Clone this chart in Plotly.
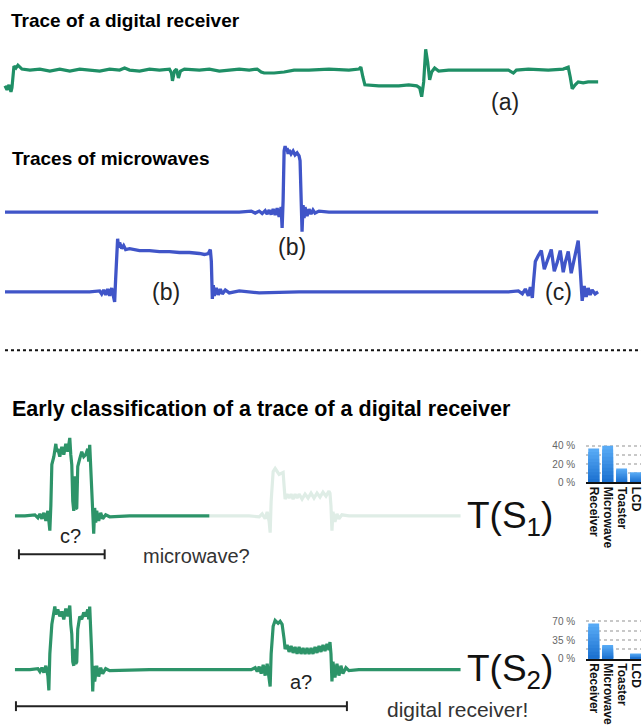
import plotly.graph_objects as go

W, H = 643, 725

# ---------------- data (time in samples, power level relative to idle) ----------------
receiver_t = [5, 7, 9, 11, 12, 14, 16, 18, 22, 30, 40, 50, 60, 70, 80, 90, 100, 110, 120, 125,
              130, 140, 150, 160, 170, 172, 173, 175, 177, 179, 181, 185, 200, 210, 220, 230, 240,
              250, 258, 262, 265, 275, 285, 295, 310, 330, 350, 360, 362, 364, 366, 380, 400, 410,
              418, 421, 423, 425, 427, 429, 431, 433, 436, 440, 450, 470, 490, 510, 515, 518, 530,
              550, 565, 570, 572, 574, 577, 580, 585, 590, 600]
receiver_p = [-16, -20, -15, -22, -18, 4, 2, 5, 1, 0, 1, -1, 1, -1, 1, 0, -1, 1, 0, 2,
              0, -1, 1, 0, 1, -3, -11, -1, 1, -8, -1, 1, 0, 1, -1, 0, 1,
              0, 1, -2, -3, -3, -2, 0, 0, 1, 0, 1, 3, -7, -15, -16, -16, -15,
              -16, -18, -27, -12, 21, 8, -10, -2, 2, -1, 0, 0, 0, 0, -3, 0, 1,
              0, 1, 3, -7, -19, -15, -12, -13, -12, -12]

mw1_t = [5, 50, 100, 150, 200, 240, 252, 256, 260, 263, 266, 268, 270, 272, 274, 276, 278, 280,
         282, 283, 284, 285, 286, 287, 288, 289, 290, 292, 294, 296, 298, 300, 301, 302, 303, 304,
         305, 306, 308, 310, 312, 314, 316, 320, 330, 400, 500, 600]
mw1_p = [0, 0, 0, 0, 0, 0, 1, -1, 1, -1.5, 1.5, -2, 2, -2.5, 3, -3, 4, -5,
         5, -16, 12, 62, 67, 62, 65, 59, 63, 59, 62, 58, 60, 57, 52, 17, -20, 7,
         -6, 5, -4, 3, -2, 2, -1, 1, 0, 0, 0, 0]

mw2_t = [5, 60, 90, 100, 102, 104, 106, 108, 110, 112, 114, 115, 116, 117, 118, 119, 120, 122,
         124, 126, 130, 140, 150, 160, 170, 180, 190, 200, 205, 209, 211, 212, 213, 214, 215, 217,
         219, 221, 223, 226, 230, 240, 260, 300, 400, 480, 510, 520, 524, 527, 530, 532, 534, 535,
         537, 540, 543, 546, 549, 553, 556, 559, 562, 565, 567, 570, 573, 575, 580, 582, 583, 584,
         586, 588, 590, 592, 594, 597, 600]
mw2_p = [0, 0, 0, 1, -2, 2, -3, 3, -4, 4, -7, -10, 13, 48, 54, 45, 50, 44,
         47, 43, 44, 42, 42, 41, 41, 40, 40, 39, 38, 39, 43, 31, -7, 7, -4, 4,
         -3, 3, -2, 2, -1, 1, -1, 0, 0, 0, 0, 1, -2, 3, -4, 5, -6, 8,
         31, 37, 42, 23, 31, 43, 21, 30, 42, 20, 30, 41, 19, 28, 52, 23, 3, -9,
         6, -5, 4, -3, 2, -2, 0]

early1_t = [15, 25, 35, 38, 40, 42, 44, 46, 48, 50, 51, 52, 54, 55, 56, 57, 58, 60, 62, 64, 66,
            68, 70, 71, 72, 73, 74, 75, 76, 77, 78, 80, 82, 84, 86, 88, 89, 90, 91, 92, 93, 94,
            95, 96, 97, 99, 101, 103, 106, 110, 130, 170, 200, 210, 230, 250, 260, 263, 266, 268,
            270, 271, 272, 274, 276, 280, 282, 284, 285, 286, 288, 290, 292, 294, 296, 298, 300,
            303, 306, 309, 312, 315, 318, 321, 324, 327, 330, 331, 332, 333, 334, 336, 338, 340,
            343, 350, 400, 462]
early1_p = [0, 0, 1, -2, 2, -3, 3, -5, 5, -15, 10, 52, 60, 70, 73, 65, 68, 60, 70, 62, 73,
            65, 79, 62, 52, 15, 5, 40, 7, 8, 50, 58, 65, 60, 62, 68, 55, 72, 50, 20, -10, -18,
            8, -7, 5, -5, 3, -3, 1, -1, 0, 0, 0, 0, 0, 0, -1, 2, -3, 4,
            -6, -17, 15, 45, 48, 42, 43, 44, 30, 17, 22, 18, 22, 17, 22, 18, 22,
            17, 22, 18, 23, 18, 23, 19, 24, 20, 25, 23, 10, -15, 4, -6, 2, -3,
            1, 0, 0, 0]
early1_observed_until = 210

early2_t = [15, 30, 38, 40, 42, 44, 46, 48, 49, 50, 52, 54, 55, 56, 58, 60, 62, 64, 66, 68, 70,
            71, 72, 73, 74, 75, 76, 77, 78, 80, 82, 84, 86, 88, 89, 90, 91, 92, 93, 94, 95, 97,
            99, 101, 103, 106, 110, 150, 200, 240, 252, 256, 258, 260, 262, 264, 266, 268, 270,
            271, 272, 274, 276, 279, 281, 283, 285, 286, 288, 290, 292, 294, 296, 298, 300, 302,
            304, 306, 308, 310, 312, 314, 316, 318, 320, 322, 324, 326, 328, 330, 331, 332, 333,
            334, 336, 338, 340, 342, 344, 347, 350, 360, 400, 462]
early2_p = [0, 0, 1, -2, 2, -3, 4, -6, -21, 16, 46, 58, 64, 56, 61, 54, 59, 51, 62, 54, 65,
            46, 36, 8, 4, 21, 6, 8, 41, 54, 51, 58, 54, 61, 51, 64, 46, 16, -22, 4, -12, 4,
            -7, 2, -4, 1, -1, 0, 0, 0, 0, 2, -2, 3, -4, 5, -6, 6, -12,
            -17, 16, 44, 50, 47, 49, 46, 31, 21, 25, 18, 24, 17, 23, 16, 23, 16,
            22, 16, 22, 16, 22, 16, 23, 17, 24, 18, 25, 19, 26, 20, 28, 16, -12,
            8, -8, 6, -6, 4, -4, 2, -1, 0, 0, 0]

window1 = [19, 105]
window2 = [16, 348]

appliances = ["Receiver", "Microwave", "Toaster", "LCD"]
probs_s1 = [37, 40, 15, 11]
probs_s2 = [66, 26, 0, 10]
ticks_s1 = [0, 20, 40]
ticklabels_s1 = ["0 %", "20 %", "40 %"]
grid_step_s1 = 10
ticks_s2 = [0, 35, 70]
ticklabels_s2 = ["0 %", "35 %", "70 %"]
grid_step_s2 = 17.5

# ---------------- helpers ----------------
def py(p):
    return 1 - p / H

def pxx(p):
    return p / W

GREEN = "#1f8f66"
GREEN2 = "#2d9469"
FADED = "#dfede6"
BLUE = "#4055c8"
BAR_TOP = (88, 170, 245)
BAR_BOTTOM = (22, 108, 205)
N_SHADES = 10
FONT = "Liberation Sans"

fig = go.Figure()

# rows: (top px, bottom px, baseline px)
rows = {
    1: (35, 105, 68),
    2: (135, 240, 212),
    3: (230, 310, 293),
    4: (430, 545, 520),
    5: (600, 705, 676),
}

def add_line(t, p, ax, color, width):
    fig.add_trace(go.Scatter(x=t, y=p, mode="lines", xaxis=f"x{ax}", yaxis=f"y{ax}",
                             line=dict(color=color, width=width), hoverinfo="skip",
                             showlegend=False))

add_line(receiver_t, receiver_p, 1, GREEN, 3.2)
add_line(mw1_t, mw1_p, 2, BLUE, 3.3)
add_line(mw2_t, mw2_p, 3, BLUE, 3.3)

# early classification: observed part vs future (faded)
obs_t = [t for t in early1_t if t <= early1_observed_until]
obs_p = [p for t, p in zip(early1_t, early1_p) if t <= early1_observed_until]
fut_t = [t for t in early1_t if t >= early1_observed_until]
fut_p = [p for t, p in zip(early1_t, early1_p) if t >= early1_observed_until]
add_line(fut_t, fut_p, 4, FADED, 3.2)
add_line(obs_t, obs_p, 4, GREEN2, 3.2)
add_line(early2_t, early2_p, 5, GREEN2, 3.2)

layout = dict(width=W, height=H, autosize=False, margin=dict(l=0, r=0, t=0, b=0),
              paper_bgcolor="white", plot_bgcolor="rgba(0,0,0,0)", showlegend=False,
              barmode="overlay", bargap=0.22)

for i, (top, bot, base) in rows.items():
    layout[f"xaxis{i}"] = dict(domain=[0, 1], range=[0, W], visible=False,
                               anchor=f"y{i}", fixedrange=True)
    layout[f"yaxis{i}"] = dict(domain=[py(bot), py(top)], range=[base - bot, base - top],
                               visible=False, anchor=f"x{i}", fixedrange=True)

# bar charts (vertical gradient imitated by overlaying shrinking, darker copies of each bar)
bar_specs = [
    (6, probs_s1, ticks_s1, ticklabels_s1, grid_step_s1, 444, 486, 0.925),
    (7, probs_s2, ticks_s2, ticklabels_s2, grid_step_s2, 624, 665, 0.543),
]
for ax, vals, tv, tt, gstep, top, bot, scale in bar_specs:
    for k in range(N_SHADES):
        f = k / N_SHADES
        col = "rgb(%d,%d,%d)" % tuple(round(a + (b - a) * f) for a, b in zip(BAR_TOP, BAR_BOTTOM))
        fig.add_trace(go.Bar(x=list(range(len(appliances))), y=[v * (1 - f) for v in vals],
                             xaxis=f"x{ax}", yaxis=f"y{ax}",
                             marker=dict(color=col, line=dict(width=0)), hoverinfo="skip",
                             showlegend=False))
    layout[f"xaxis{ax}"] = dict(domain=[pxx(588), 1], range=[-0.54, 3.39], anchor=f"y{ax}",
                                tickmode="array", tickvals=list(range(len(appliances))),
                                ticktext=[f"<b>{a}</b>" for a in appliances], tickangle=90,
                                tickfont=dict(family=FONT, size=12, color="#111"),
                                ticklabeloverflow="allow",
                                showline=True, linecolor="#111", linewidth=2,
                                showgrid=False, zeroline=False, ticks="", ticklen=0,
                                fixedrange=True)
    layout[f"yaxis{ax}"] = dict(domain=[py(bot), py(top)], range=[0, (bot - top) / scale],
                                anchor=f"x{ax}", tickmode="array", tickvals=tv, ticktext=tt,
                                tickfont=dict(family=FONT, size=10, color="#666"),
                                showgrid=True, gridcolor="#c8c8c8", griddash="dot", gridwidth=2,
                                minor=dict(dtick=gstep, tick0=0, showgrid=True,
                                           gridcolor="#c8c8c8", griddash="dot", gridwidth=2),
                                zeroline=False, showline=False, ticks="",
                                ticklabelstandoff=10, fixedrange=True)

fig.update_layout(**layout)

# separator
fig.add_shape(type="line", xref="paper", yref="paper", x0=pxx(5), x1=1, y0=py(352), y1=py(352),
              line=dict(color="#111", width=2, dash="dot"))

# observation windows (scale bars)
for win, ax, ypx in [(window1, 4, 559), (window2, 5, 713)]:
    fig.add_shape(type="line", xref=f"x{ax}", yref="paper", x0=win[0], x1=win[1],
                  y0=py(ypx), y1=py(ypx), line=dict(color="#222", width=2))
    for xe in win:
        fig.add_shape(type="line", xref=f"x{ax}", yref="paper", x0=xe, x1=xe,
                      y0=py(ypx - 5), y1=py(ypx + 5), line=dict(color="#222", width=2))

def text(s, x, y, size, bold=False, anchor="center", color="#222"):
    fig.add_annotation(text=f"<b>{s}</b>" if bold else s, xref="paper", yref="paper",
                       x=pxx(x), y=py(y), xanchor=anchor, yanchor="middle", showarrow=False,
                       font=dict(family=FONT, size=size, color=color))

text("Trace of a digital receiver", 9, 18, 19, bold=True, anchor="left", color="#000")
text("Traces of microwaves", 10, 158, 19, bold=True, anchor="left", color="#000")
text("Early classification of a trace of a digital receiver", 10, 412, 21.5, bold=True,
     anchor="left", color="#000")
text("(a)", 507, 100, 23)
text("(b)", 293, 247, 23)
text("(b)", 167, 293, 23)
text("(c)", 560, 293, 23)
text("c?", 71, 540, 20)
text("a?", 302, 688, 20)
text("microwave?", 197, 561, 20, color="#333")
text("digital receiver!", 459, 716, 21, color="#333")
text("T(S<sub>1</sub>)", 466, 522, 37, anchor="left", color="#111")
text("T(S<sub>2</sub>)", 466, 677, 37, anchor="left", color="#111")

fig.write_html("out.html", config={"displayModeBar": False},
               post_script="document.body.style.margin='0';document.body.style.overflow='hidden';")
